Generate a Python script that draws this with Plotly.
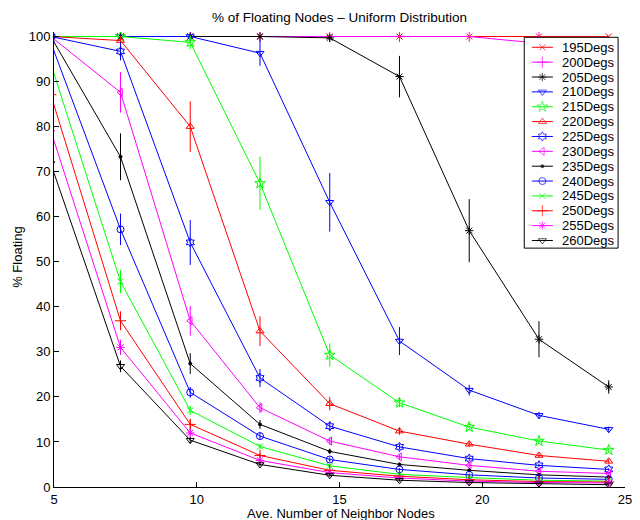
import plotly.graph_objects as go

# Average number of neighbour nodes at each simulated density
avg_neighbors = [4.886, 7.329, 9.772, 12.215, 14.658, 17.101, 19.544, 21.987, 24.43]

# Percentage of floating nodes (mean) for each angular threshold
deg_195 = [100, 100, 100, 100, 100, 100, 100, 100, 100]
deg_200 = [100, 100, 100, 100, 100, 100, 100, 98.5, 98.2]
deg_205 = [100, 100, 100, 100, 99.7, 91.1, 56.9, 32.8, 22.2]
deg_210 = [100, 100, 100, 96.3, 63.2, 32.4, 21.5, 15.9, 12.8]
deg_215 = [100, 100, 98.7, 67.4, 29.3, 18.7, 13.3, 10.2, 8.2]
deg_220 = [100, 99.1, 80.0, 34.6, 18.5, 12.4, 9.5, 7.0, 5.7]
deg_225 = [100, 96.7, 54.3, 24.2, 13.5, 8.9, 6.3, 4.8, 3.9]
deg_230 = [100, 87.6, 36.9, 17.6, 10.2, 6.7, 4.8, 3.5, 3.0]
deg_235 = [100, 73.3, 27.4, 13.9, 7.9, 5.0, 3.7, 2.7, 2.2]
deg_240 = [98.7, 57.2, 21.0, 11.3, 6.1, 3.9, 2.7, 2.0, 1.7]
deg_245 = [94.0, 45.6, 17.0, 9.0, 4.7, 2.8, 2.1, 1.5, 1.3]
deg_250 = [87.1, 36.9, 13.9, 7.0, 3.7, 2.4, 1.6, 1.2, 1.1]
deg_255 = [79.1, 31.0, 12.0, 5.9, 3.2, 2.0, 1.3, 1.0, 0.9]
deg_260 = [71.8, 26.8, 10.4, 5.0, 2.6, 1.5, 1.0, 0.7, 0.5]

# Standard deviation of each mean
err_195 = [0, 0, 0, 0, 0, 0, 0, 0, 0]
err_200 = [0, 0, 0, 0, 0, 0, 0, 2.8, 1.0]
err_205 = [0, 0, 0, 0, 0.5, 4.6, 7.0, 4.0, 1.5]
err_210 = [0, 0, 0, 2.8, 6.5, 3.1, 1.2, 0.8, 0.6]
err_215 = [0, 0, 1.5, 5.9, 2.6, 1.0, 0.7, 0.5, 0.5]
err_220 = [0, 1.0, 5.6, 3.3, 1.5, 0.8, 0.6, 0.5, 0.5]
err_225 = [0, 2.0, 5.0, 2.0, 1.0, 0.6, 0.5, 0.4, 0.3]
err_230 = [0, 4.5, 3.3, 1.2, 0.8, 0.5, 0.4, 0.3, 0.3]
err_235 = [0.5, 5.2, 2.3, 1.0, 0.6, 0.4, 0.3, 0.2, 0.2]
err_240 = [1.0, 3.5, 1.2, 0.7, 0.5, 0.3, 0.3, 0.2, 0.2]
err_245 = [1.0, 2.6, 1.0, 0.6, 0.4, 0.3, 0.2, 0.2, 0.2]
err_250 = [1.0, 2.1, 1.0, 0.5, 0.3, 0.2, 0.2, 0.2, 0.1]
err_255 = [1.0, 1.7, 0.7, 0.4, 0.3, 0.2, 0.2, 0.1, 0.1]
err_260 = [1.0, 1.3, 0.7, 0.4, 0.3, 0.2, 0.1, 0.1, 0.1]

series_names = ["195Degs", "200Degs", "205Degs", "210Degs", "215Degs", "220Degs",
                "225Degs", "230Degs", "235Degs", "240Degs", "245Degs", "250Degs",
                "255Degs", "260Degs"]
series_values = [deg_195, deg_200, deg_205, deg_210, deg_215, deg_220, deg_225,
                 deg_230, deg_235, deg_240, deg_245, deg_250, deg_255, deg_260]
series_errors = [err_195, err_200, err_205, err_210, err_215, err_220, err_225,
                 err_230, err_235, err_240, err_245, err_250, err_255, err_260]

RED, MAG, BLK, BLU, GRN = "#ff0000", "#ff00ff", "#000000", "#0000ff", "#00ff00"
styles = [
    (RED, "x-thin", 6),
    (MAG, "cross-thin", 8),
    (BLK, "asterisk-open", 7),
    (BLU, "triangle-down-open", 7),
    (GRN, "star-open", 8),
    (RED, "triangle-up-open", 7),
    (BLU, "hexagram-open", 7),
    (MAG, "triangle-left-open", 7),
    (BLK, "circle", 3),
    (BLU, "circle-open", 7),
    (GRN, "x-thin", 6),
    (RED, "cross-thin", 8),
    (MAG, "asterisk-open", 7),
    (BLK, "triangle-down-open", 7),
]

# Figure geometry (pixels)
W, H = 640, 520
PLOT_L, PLOT_R, PLOT_T, PLOT_B = 54, 632, 32, 486.7
FONT = "Liberation Sans, Arial, Helvetica, sans-serif"

fig = go.Figure()
for name, vals, errs, (color, symbol, size) in zip(series_names, series_values,
                                                    series_errors, styles):
    fig.add_trace(go.Scatter(
        x=avg_neighbors, y=vals, name=name, mode="lines+markers",
        showlegend=False,
        line=dict(color=color, width=1),
        marker=dict(symbol=symbol, size=size, color=color,
                    line=dict(color=color, width=1)),
        error_y=dict(type="data", array=errs, visible=True, width=0,
                     thickness=1, color=color),
    ))

# Boxed legend drawn on a pixel-space overlay so rows sit close together
LEG_L, LEG_R, LEG_T, LEG_B = 530, 625, 37.3, 248
ROW0, ROW_PITCH = 47.3, 14.85
SAMPLE_X0, SAMPLE_X1, TEXT_X = 537.7, 559, 566

fig.add_trace(go.Scatter(
    x=[LEG_L, LEG_R, LEG_R, LEG_L, LEG_L], y=[LEG_T, LEG_T, LEG_B, LEG_B, LEG_T],
    xaxis="x2", yaxis="y2", mode="lines", fill="toself", fillcolor="white",
    line=dict(color="black", width=1), showlegend=False, hoverinfo="skip",
))
annotations = []
for i, (name, (color, symbol, size)) in enumerate(zip(series_names, styles)):
    ry = ROW0 + i * ROW_PITCH
    fig.add_trace(go.Scatter(
        x=[SAMPLE_X0, (SAMPLE_X0 + SAMPLE_X1) / 2, SAMPLE_X1], y=[ry, ry, ry],
        xaxis="x2", yaxis="y2", mode="lines+markers", showlegend=False,
        hoverinfo="skip",
        line=dict(color=color, width=1),
        marker=dict(symbol=symbol, size=[0, size, 0], color=color,
                    line=dict(color=color, width=1)),
    ))
    annotations.append(dict(
        x=TEXT_X, y=ry, xref="x2", yref="y2", text=name, showarrow=False,
        xanchor="left", yanchor="middle", font=dict(size=13, family=FONT),
    ))

# Axis titles
annotations.append(dict(
    text="Ave. Number of Neighbor Nodes", xref="paper", yref="paper",
    x=(344.5 - PLOT_L) / (PLOT_R - PLOT_L), y=(PLOT_B - 513.3) / (PLOT_B - PLOT_T),
    xanchor="center", yanchor="middle", showarrow=False, font=dict(size=13),
))
annotations.append(dict(
    text="% Floating", xref="paper", yref="paper", textangle=-90,
    x=(16.7 - PLOT_L) / (PLOT_R - PLOT_L), y=(PLOT_B - 257.5) / (PLOT_B - PLOT_T),
    xanchor="center", yanchor="middle", showarrow=False, font=dict(size=13),
))

axis_style = dict(ticks="inside", ticklen=5, tickcolor="black", showline=True,
                  linecolor="black", linewidth=1, mirror=False, showgrid=False,
                  zeroline=False, tickfont=dict(size=13))

fig.update_layout(
    width=W, height=H,
    margin=dict(l=PLOT_L, r=W - PLOT_R, t=PLOT_T, b=H - PLOT_B),
    paper_bgcolor="white", plot_bgcolor="white",
    font=dict(family=FONT, size=13, color="black"),
    title=dict(text="% of Floating Nodes \u2013 Uniform Distribution",
               xref="paper", x=0.5, xanchor="center",
               yref="container", y=1 - 17 / H, yanchor="middle",
               font=dict(size=13.5)),
    showlegend=False,
    annotations=annotations,
    xaxis=dict(range=[5, 25], tickvals=[5, 10, 15, 20, 25], **axis_style),
    yaxis=dict(range=[0, 101], tickvals=list(range(0, 101, 10)), **axis_style),
    xaxis2=dict(overlaying="x", range=[PLOT_L, PLOT_R], visible=False,
                fixedrange=True),
    yaxis2=dict(overlaying="y", range=[PLOT_B, PLOT_T], visible=False,
                fixedrange=True),
)

fig.write_html("out.html")
